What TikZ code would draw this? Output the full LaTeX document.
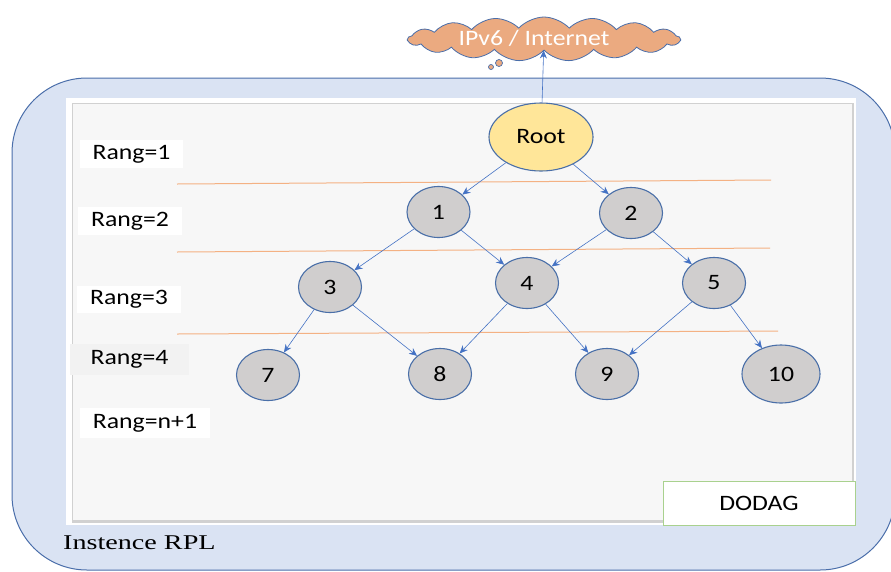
\documentclass[tikz,border=0pt]{standalone}
\usepackage{fontspec}
\setmainfont{Carlito}[FakeStretch=1.17]
\newfontfamily\serifrpl{Liberation Serif}[FakeStretch=1.34]
\usetikzlibrary{shapes.geometric,shapes.symbols,arrows.meta}
\definecolor{outerfill}{HTML}{DAE3F3}
\definecolor{outerdraw}{HTML}{4A6EAA}
\definecolor{nodedraw}{HTML}{4A6FA8}
\definecolor{grayfill}{HTML}{D0CECE}
\definecolor{rootfill}{HTML}{FFE699}
\definecolor{edgecol}{HTML}{4472C4}
\definecolor{rangline}{HTML}{F4B183}
\definecolor{cloudfill}{HTML}{EBAA80}
\definecolor{panelfill}{HTML}{F7F7F7}
\definecolor{dodagdraw}{HTML}{A9D18E}
\tikzset{
  txt/.style={font=\fontsize{22}{25}\selectfont},
  rnode/.style={ellipse, draw=nodedraw, line width=1.1pt, fill=grayfill, minimum width=63pt, minimum height=51pt, inner sep=0pt, txt},
  rootnode/.style={rnode, fill=rootfill, minimum width=104pt, minimum height=68pt},
  bignode/.style={rnode, minimum width=78pt, minimum height=58pt},
  rangbox/.style={fill=white, inner sep=0pt, txt},
  link/.style={draw=edgecol, line width=0.6pt, -{Stealth[length=8pt,width=7pt]}},
  rline/.style={draw=rangline, line width=1pt},
}
\begin{document}
\begin{tikzpicture}[x=1pt,y=-1pt]
\useasboundingbox (0,0) rectangle (891,571);
% outer instance
\draw[fill=outerfill, draw=outerdraw, line width=1pt, rounded corners=75pt] (12,78) rectangle (895,570);
% panel
\fill[white] (66,98) rectangle (856,525);
\fill[black!18] (72,103) rectangle (854,523);
\fill[panelfill] (73,104) rectangle (852,520);
% rank lines
\draw[rline] (177,184) -- (771,180);
\draw[rline] (177,252) -- (770,248);
\draw[rline] (177,334) -- (778,331);
% rank labels
\node[rangbox, minimum width=103pt, minimum height=28pt] (r1) at (131.5,154) {Rang=1};
\node[rangbox, minimum width=104pt, minimum height=28pt] (r2) at (130,221) {Rang=2};
\node[rangbox, minimum width=104pt, minimum height=27pt] (r3) at (129,299.5) {Rang=3};
\node[rangbox, fill=black!5, minimum width=119pt, minimum height=31pt] (r4) at (129.5,359.5) {Rang=4};
\node[rangbox, minimum width=130pt, minimum height=30pt] (rn) at (145,423) {Rang=n+1};
% cloud
\node[cloud, cloud puffs=17, cloud puff arc=95, aspect=7, draw=outerdraw, line width=0.8pt, fill=cloudfill, minimum width=272pt, minimum height=44pt, inner sep=0pt, outer sep=0pt, text=white, txt] (cloud) at (544,39) {};
\node[text=white, txt, inner sep=0pt] (cloudtxt) at (534,38) {IPv6 / Internet};
\node[circle, draw=outerdraw, fill=cloudfill, line width=0.7pt, minimum size=7pt, inner sep=0pt] (b1) at (499,63) {};
\node[circle, draw=outerdraw, fill=cloudfill, line width=0.7pt, minimum size=5pt, inner sep=0pt] (b2) at (491,67) {};
% nodes
\node[rootnode] (root) at (541,137) {Root};
\node[rnode] (n1) at (438.5,212) {1};
\node[rnode] (n2) at (631,213) {2};
\node[rnode] (n3) at (330,287) {3};
\node[rnode] (n4) at (527,283) {4};
\node[rnode] (n5) at (714,283) {5};
\node[rnode] (n7) at (268,375) {7};
\node[rnode] (n8) at (440,374) {8};
\node[rnode] (n9) at (607,374) {9};
\node[bignode] (n10) at (781,374) {10};
% edges
\draw[link] (root) -- (cloud);
\draw[link] (root) -- (n1);
\draw[link] (root) -- (n2);
\draw[link] (n1) -- (n3);
\draw[link] (n1) -- (n4);
\draw[link] (n2) -- (n4);
\draw[link] (n2) -- (n5);
\draw[link] (n3) -- (n7);
\draw[link] (n3) -- (n8);
\draw[link] (n4) -- (n8);
\draw[link] (n4) -- (n9);
\draw[link] (n5) -- (n9);
\draw[link] (n5) -- (n10);
% DODAG
\node[draw=dodagdraw, line width=1pt, fill=white, minimum width=192pt, minimum height=44pt, inner sep=0pt, txt] (dodag) at (759,503) {DODAG};
% instance label
\node[anchor=west, inner sep=0pt, font=\serifrpl\fontsize{21}{24}\selectfont] (rpl) at (63,543) {Instence RPL};
\end{tikzpicture}
\end{document}
